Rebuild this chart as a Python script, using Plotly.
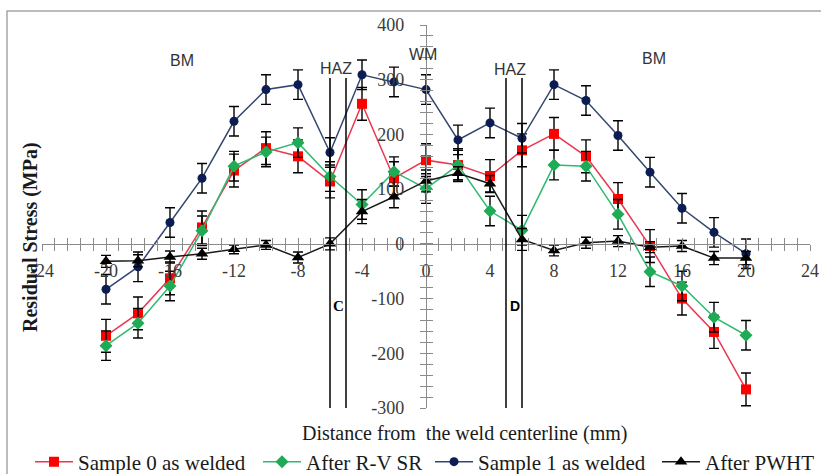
import plotly.graph_objects as go

# ---- data ----
distance = [-20, -18, -16, -14, -12, -10, -8, -6, -4, -2, 0, 2, 4, 6, 8, 10, 12, 14, 16, 18, 20]
sample0 = [-168, -127, -63, 30, 134, 175, 160, 114, 256, 120, 153, 144, 124, 171, 201, 160, 82, -4, -100, -161, -266]
after_rvsr = [-186, -145, -77, 24, 142, 168, 185, 123, 72, 132, 101, 144, 60, 25, 144, 142, 54, -51, -77, -134, -167]
sample1 = [-83, -42, 39, 120, 224, 282, 291, 167, 309, 296, 282, 190, 221, 193, 291, 262, 198, 131, 65, 21, -18]
after_pwht = [-32, -31, -24, -18, -10, -2, -25, 0, 59, 86, 115, 129, 110, 8, -12, 2, 5, -6, -4, -26, -26]

err_sample0 = 30
err_rvsr = 27
err_sample1 = 27
err_pwht = [11, 11, 11, 10, 8, 8, 10, 11, 22, 20, 20, 12, 15, 20, 10, 10, 10, 10, 10, 12, 12]

series_names = ["Sample 0 as welded", "After R-V SR", "Sample 1 as welded", "After PWHT"]

x_tick_vals = [-24, -20, -16, -12, -8, -4, 0, 4, 8, 12, 16, 20, 24]
x_tick_text = ["-24", "-20", "-16", "-12", "-8", "-4", "0", "4", "8", "12", "16", "20", "24"]
y_tick_vals = [-300, -200, -100, 0, 100, 200, 300, 400]
y_tick_text = ["-300", "-200", "-100", "0", "100", "200", "300", "400"]

zone_lines = [-6, -5, 5, 6]
zone_line_top = 303
zone_line_bottom = -304

zone_labels = ["BM", "HAZ", "WM", "HAZ", "BM"]
zone_label_x = [-15.25, -5.6, -0.2, 5.25, 14.25]
zone_label_y = [335, 321, 346, 319, 339]

point_labels = ["C", "D"]
point_label_x = [-5.5, 5.56]
point_label_y = [-114, -114]

x_range = [-24, 24]
y_range = [-300, 400]

# ---- layout geometry ----
W, H = 821, 474
ml, mr, mt, mb = 42, 11, 25, 66
pw = W - ml - mr
ph = H - mt - mb

def px_to_paper_x(px):
    return (px - ml) / pw

def px_to_paper_y(py):
    return (H - mb - py) / ph

serif = "Liberation Serif, Times New Roman, serif"
sans = "Liberation Sans, Arial, sans-serif"

fig = go.Figure()

def add_series(y, name, line_color, marker_color, symbol, size, err, lw):
    ed = dict(color="black", thickness=1.4, width=5)
    if isinstance(err, list):
        ed["type"] = "data"
        ed["array"] = err
    else:
        ed["type"] = "constant"
        ed["value"] = err
    kw = {}
    if lw:
        kw["legendwidth"] = lw
    fig.add_trace(go.Scatter(
        x=distance, y=y, name=name, mode="lines+markers",
        line=dict(color=line_color, width=1.5),
        marker=dict(color=marker_color, symbol=symbol, size=size),
        error_y=ed, **kw,
    ))

add_series(sample0, series_names[0], "#e8384f", "#ff0000", "square", 10, err_sample0, 175)
add_series(after_rvsr, series_names[1], "#2fba72", "#1faa55", "diamond", 10, err_rvsr, 119)
add_series(sample1, series_names[2], "#34466f", "#0b1d52", "circle", 9, err_sample1, 174)
add_series(after_pwht, series_names[3], "#1a1a1a", "#000000", "triangle-up", 11, err_pwht, None)

# invisible trace so overlay axes render
fig.add_trace(go.Scatter(x=[0], y=[0], xaxis="x2", yaxis="y2", mode="markers",
                         marker=dict(opacity=0), showlegend=False, hoverinfo="skip"))

xpos = (0 - y_range[0]) / (y_range[1] - y_range[0])
ypos = (0 - x_range[0]) / (x_range[1] - x_range[0])

axis_color = "#8a8a8a"
tick_font = dict(family=serif, size=18, color="#3a3a3a")

common_x = dict(range=x_range, showgrid=False, zeroline=False, showline=True,
                linecolor=axis_color, linewidth=1.3, tickcolor=axis_color,
                tickwidth=1.2, ticklen=6, tickmode="array",
                tickvals=x_tick_vals, ticktext=x_tick_text, automargin=False)
common_y = dict(range=y_range, showgrid=False, zeroline=False, showline=True,
                linecolor=axis_color, linewidth=1.3, tickcolor=axis_color,
                tickwidth=1.2, ticklen=6, tickmode="array",
                tickvals=y_tick_vals, ticktext=y_tick_text, automargin=False)

fig.update_layout(
    width=W, height=H,
    margin=dict(l=ml, r=mr, t=mt, b=mb, autoexpand=False),
    paper_bgcolor="white", plot_bgcolor="white",
    xaxis=dict(**common_x, anchor="free", position=xpos, ticks="outside",
               tickfont=tick_font, ticklabelstandoff=4,
               minor=dict(dtick=0.8, tick0=-24, ticks="outside", ticklen=6,
                          tickcolor=axis_color, tickwidth=1.2)),
    yaxis=dict(**common_y, anchor="free", position=ypos, ticks="outside",
               tickfont=tick_font, ticklabelstandoff=12,
               minor=dict(dtick=20, tick0=0, ticks="outside", ticklen=6,
                          tickcolor=axis_color, tickwidth=1.2)),
    xaxis2=dict(**common_x, overlaying="x", anchor="free", position=xpos,
                ticks="inside", showticklabels=False,
                minor=dict(dtick=0.8, tick0=-24, ticks="inside", ticklen=6,
                           tickcolor=axis_color, tickwidth=1.2)),
    yaxis2=dict(**common_y, overlaying="y", anchor="free", position=ypos,
                ticks="inside", showticklabels=False,
                minor=dict(dtick=20, tick0=0, ticks="inside", ticklen=6,
                           tickcolor=axis_color, tickwidth=1.2)),
    legend=dict(orientation="h", xref="paper", yref="paper",
                x=px_to_paper_x(30), y=px_to_paper_y(462), xanchor="left", yanchor="middle",
                font=dict(family=serif, size=21, color="#1a1a1a"),
                itemwidth=38, tracegroupgap=0, bgcolor="rgba(0,0,0,0)"),
    showlegend=True,
)

# zone boundary lines
for xv in zone_lines:
    fig.add_shape(type="line", xref="x", yref="y", x0=xv, x1=xv,
                  y0=zone_line_bottom, y1=zone_line_top,
                  line=dict(color="black", width=1.5))

# chart area border
fig.add_shape(type="rect", xref="paper", yref="paper",
              x0=px_to_paper_x(7), x1=px_to_paper_x(840),
              y0=px_to_paper_y(500), y1=px_to_paper_y(11),
              line=dict(color="#a6a6a6", width=1.5), fillcolor="rgba(0,0,0,0)",
              layer="below")

for t, xv, yv in zip(zone_labels, zone_label_x, zone_label_y):
    fig.add_annotation(x=xv, y=yv, xref="x", yref="y", text=t, showarrow=False,
                       xanchor="center", yanchor="middle",
                       font=dict(family=sans, size=16, color="#333333"))

fig.add_annotation(x=point_label_x[0], y=point_label_y[0], xref="x", yref="y",
                   text="<b>" + point_labels[0] + "</b>", showarrow=False,
                   xanchor="center", yanchor="middle",
                   font=dict(family=serif, size=15, color="black"))
fig.add_annotation(x=point_label_x[1], y=point_label_y[1], xref="x", yref="y",
                   text="<b>" + point_labels[1] + "</b>", showarrow=False,
                   xanchor="center", yanchor="middle",
                   font=dict(family=sans, size=14, color="black"))

# axis titles
fig.add_annotation(x=px_to_paper_x(464), y=px_to_paper_y(433), xref="paper", yref="paper",
                   text="Distance from  the weld centerline (mm)", showarrow=False,
                   xanchor="center", yanchor="middle",
                   font=dict(family=serif, size=20, color="#1a1a1a"))
fig.add_annotation(x=px_to_paper_x(30), y=px_to_paper_y(237), xref="paper", yref="paper",
                   text="<b>Residual Stress (MPa)</b>", showarrow=False, textangle=-90,
                   xanchor="center", yanchor="middle",
                   font=dict(family=serif, size=20, color="#1a1a1a"))

fig.write_html("out.html", config={"displayModeBar": False},
               post_script="document.body.style.margin='0';document.body.style.overflow='hidden';")
